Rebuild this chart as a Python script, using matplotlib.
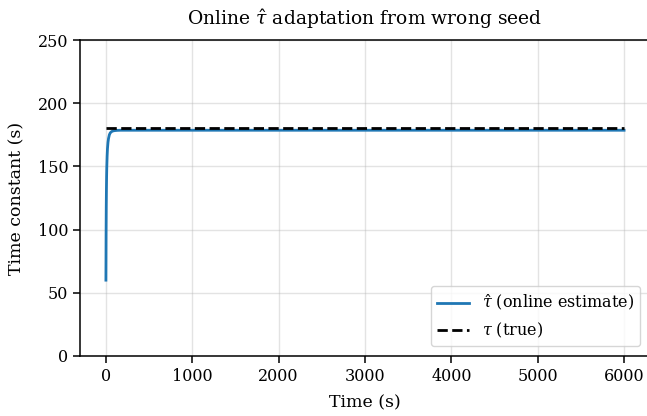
import matplotlib
matplotlib.use("Agg")
import matplotlib.pyplot as plt
import numpy as np

plt.rcParams['font.family'] = 'DejaVu Serif'
plt.rcParams['mathtext.fontset'] = 'dejavuserif'

t = [0, 1, 2, 4, 6, 8, 10, 14, 18, 24, 30, 40, 50, 65, 80, 100, 130, 170, 250, 500, 1000, 2000, 3000, 4000, 5000, 6000]
tau_hat = [60, 75, 95, 118, 132, 142, 149, 158, 164, 169, 172, 175, 176.5, 177.5, 178, 178.3, 178.5, 178.6, 178.6, 178.6, 178.6, 178.6, 178.6, 178.6, 178.6, 178.6]
tau_true_t = [0, 6000]
tau_true = [180, 180]

fig = plt.figure(figsize=(6.47, 4.16), dpi=100)
ax = fig.add_axes([80/647, 60/416, 570/647, 316/416])
ax.plot(t, tau_hat, color='#1f77b4', lw=2.0, label=r'$\hat{\tau}$ (online estimate)')
ax.plot(tau_true_t, tau_true, 'k--', lw=2.0, label=r'$\tau$ (true)')
ax.set_ylim(0, 250)
ax.set_xlim(-300, 6300)
ax.grid(True, alpha=0.35, lw=1.0)
ax.spines['right'].set_visible(False)
for s in ax.spines.values():
    s.set_linewidth(1.1)
ax.set_xlabel('Time (s)', fontsize=12.5, labelpad=7)
ax.set_ylabel('Time constant (s)', fontsize=12.5, labelpad=9)
ax.set_title(r'Online $\hat{\tau}$ adaptation from wrong seed', fontsize=13.5, pad=11)
ax.tick_params(labelsize=11.5, length=5, width=1.1)
ax.legend(loc='lower right', fontsize=11.5, borderaxespad=0.6)
fig.savefig('out.png', dpi=100)
